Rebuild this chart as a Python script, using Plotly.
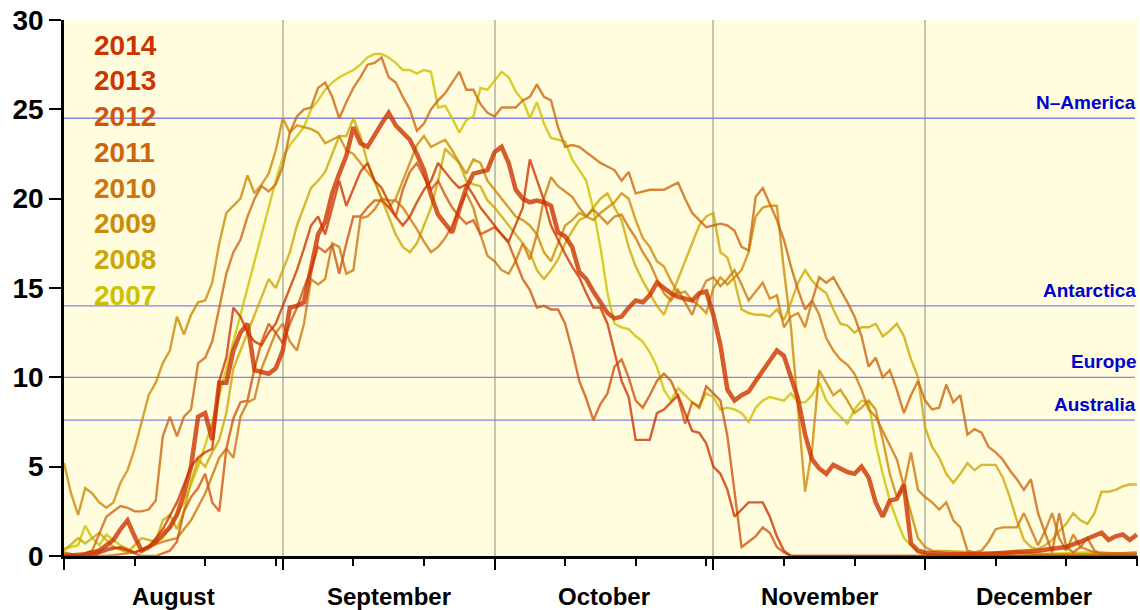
import pandas as pd
import plotly.graph_objects as go

# Ozone hole area (million km²) per season, as (day since 1 August, area) pairs
SEASON_START = pd.Timestamp("2014-08-01")

AREA_2014 = [(0, 0.0), (3, 0.1), (5, 0.3), (7, 0.9), (8, 1.5), (9, 2.0), (10, 1.1), (11, 0.3), (12, 0.5),
             (13, 0.8), (14, 1.2), (15, 1.6), (16, 2.3), (17, 3.5), (18, 5.0), (19, 7.8), (20, 8.0), (21, 6.5),
             (22, 9.7), (23, 9.7), (24, 11.5), (25, 12.5), (26, 13.0), (27, 10.4), (28, 10.3), (29, 10.2),
             (30, 10.5), (31, 11.5), (32, 13.9), (33, 14.0), (34, 14.2), (35, 16.0), (36, 18.0), (37, 18.7),
             (38, 20.3), (39, 21.4), (40, 22.4), (41, 24.0), (42, 23.1), (43, 22.9), (44, 23.6), (45, 24.2),
             (46, 24.8), (47, 24.1), (48, 23.7), (49, 23.3), (50, 22.5), (51, 21.6), (52, 20.2), (53, 19.1),
             (54, 18.6), (55, 18.1), (56, 19.4), (57, 20.6), (58, 21.4), (59, 21.5), (60, 21.6), (61, 22.6),
             (62, 22.9), (63, 22.0), (64, 20.5), (65, 20.0), (66, 19.8), (67, 19.9), (68, 19.8), (69, 19.6),
             (70, 18.1), (71, 17.9), (72, 17.3), (73, 15.9), (74, 15.5), (75, 14.8), (76, 14.2), (77, 13.6),
             (78, 13.3), (79, 13.4), (80, 13.9), (81, 14.3), (82, 14.2), (83, 14.6), (84, 15.3), (85, 15.0),
             (86, 14.7), (87, 14.5), (88, 14.4), (89, 14.3), (90, 14.7), (91, 14.8), (92, 13.5), (93, 11.8),
             (94, 9.3), (95, 8.7), (96, 9.0), (97, 9.2), (98, 9.8), (99, 10.4), (100, 10.9), (101, 11.5),
             (102, 11.2), (103, 9.9), (104, 8.8), (105, 6.8), (106, 5.4), (107, 4.9), (108, 4.6), (109, 5.1),
             (110, 4.9), (111, 4.7), (112, 4.6), (113, 5.0), (114, 4.4), (115, 3.0), (116, 2.2), (117, 3.1),
             (118, 3.2), (119, 4.0), (120, 0.7), (121, 0.3), (122, 0.2), (125, 0.1), (130, 0.1), (135, 0.2),
             (138, 0.3), (140, 0.4), (142, 0.5), (144, 0.8), (146, 1.1), (147, 1.3), (148, 0.9), (149, 1.1),
             (150, 1.2), (151, 0.9), (152, 1.2)]

AREA_2013 = [(0, 0.0), (4, 0.0), (6, 0.3), (8, 0.5), (10, 0.2), (12, 0.5), (14, 1.5), (16, 3.0), (18, 5.0),
             (19, 5.5), (20, 5.8), (21, 6.0), (22, 9.8), (23, 11.1), (24, 13.9), (25, 13.4), (26, 12.5),
             (27, 12.0), (28, 11.8), (29, 12.5), (30, 13.0), (31, 14.0), (32, 15.0), (33, 16.0), (34, 17.2),
             (35, 18.5), (36, 19.0), (37, 18.0), (38, 19.5), (39, 21.0), (40, 19.6), (41, 20.5), (42, 21.5),
             (43, 22.0), (44, 21.0), (45, 20.6), (46, 19.8), (47, 19.0), (48, 18.5), (49, 19.0), (50, 19.8),
             (51, 20.5), (52, 21.0), (53, 22.0), (54, 21.5), (55, 21.0), (56, 20.6), (57, 20.8), (58, 20.2),
             (59, 19.5), (60, 19.0), (61, 18.5), (62, 18.0), (63, 17.6), (64, 18.5), (65, 19.5), (66, 22.2),
             (67, 21.0), (68, 19.9), (69, 18.5), (70, 17.7), (71, 16.9), (72, 16.2), (73, 15.6), (74, 14.7),
             (75, 13.9), (76, 13.9), (77, 13.0), (78, 11.4), (79, 9.8), (80, 8.9), (81, 6.5), (82, 6.5),
             (83, 6.5), (84, 8.0), (85, 8.2), (86, 8.6), (87, 9.0), (88, 8.0), (89, 7.0), (90, 6.9), (91, 6.3),
             (92, 5.0), (93, 4.6), (94, 3.7), (95, 2.2), (96, 2.6), (97, 3.0), (98, 3.0), (99, 3.0), (100, 2.2),
             (101, 1.1), (102, 0.3), (103, 0.0), (152, 0.0)]

AREA_2012 = [(0, 0.0), (3, 0.0), (5, 0.3), (7, 0.5), (9, 0.3), (11, 0.0), (13, 0.0), (15, 0.3), (16, 0.8),
             (17, 2.5), (18, 3.3), (19, 3.8), (20, 4.6), (21, 3.0), (22, 2.5), (23, 6.0), (24, 7.7), (25, 8.6),
             (26, 8.7), (27, 10.5), (28, 12.0), (29, 13.0), (30, 12.5), (31, 11.9), (32, 13.0), (33, 13.9),
             (34, 15.0), (35, 16.0), (36, 17.3), (37, 17.0), (38, 17.4), (39, 15.8), (40, 17.5), (41, 19.0),
             (42, 19.0), (43, 19.5), (44, 19.9), (45, 19.9), (46, 19.5), (47, 19.0), (48, 20.5), (49, 21.5),
             (50, 22.0), (51, 21.2), (52, 20.5), (53, 21.0), (54, 20.2), (55, 19.5), (56, 19.0), (57, 18.6),
             (58, 18.8), (59, 18.0), (60, 18.2), (61, 18.4), (62, 18.0), (63, 17.5), (64, 16.5), (65, 15.5),
             (66, 14.9), (67, 13.9), (68, 14.0), (69, 13.8), (70, 13.8), (71, 13.0), (72, 11.5), (73, 9.8),
             (74, 8.8), (75, 7.6), (76, 8.5), (77, 9.1), (78, 10.6), (79, 11.0), (80, 10.0), (81, 8.7),
             (82, 8.3), (83, 9.0), (84, 9.8), (85, 10.2), (86, 9.8), (87, 8.9), (88, 7.4), (89, 8.6), (90, 8.3),
             (91, 9.5), (92, 9.1), (93, 8.7), (94, 6.7), (95, 3.7), (96, 0.5), (97, 0.8), (98, 1.1), (99, 1.6),
             (100, 1.3), (101, 0.5), (102, 0.2), (103, 0.0), (152, 0.0)]

AREA_2011 = [(0, 0.2), (2, 0.0), (4, 0.3), (6, 2.2), (7, 2.5), (8, 2.8), (9, 2.7), (10, 2.5), (11, 2.5),
             (12, 2.6), (13, 3.1), (14, 6.7), (15, 7.8), (16, 6.7), (17, 7.8), (18, 8.2), (19, 10.8), (20, 11.1),
             (21, 12.0), (22, 14.0), (23, 15.8), (24, 17.0), (25, 17.7), (26, 19.0), (27, 20.0), (28, 20.7),
             (29, 20.4), (30, 20.8), (31, 21.8), (32, 23.7), (33, 24.6), (34, 25.0), (35, 25.1), (36, 26.2),
             (37, 26.5), (38, 25.7), (39, 24.5), (40, 25.4), (41, 26.2), (42, 26.8), (43, 27.5), (44, 27.6),
             (45, 27.9), (46, 26.8), (47, 26.5), (48, 25.7), (49, 25.0), (50, 23.8), (51, 24.2), (52, 25.0),
             (53, 25.5), (54, 25.9), (55, 26.5), (56, 27.1), (57, 26.1), (58, 26.1), (59, 25.3), (60, 24.8),
             (61, 24.6), (62, 25.1), (63, 25.1), (64, 25.1), (65, 25.5), (66, 25.7), (67, 26.4), (68, 25.7),
             (69, 25.5), (70, 24.0), (71, 22.9), (72, 23.0), (73, 22.9), (74, 22.6), (75, 22.3), (76, 22.0),
             (77, 21.8), (78, 21.6), (79, 21.0), (80, 21.5), (81, 20.3), (82, 20.4), (83, 20.5), (84, 20.5),
             (85, 20.5), (86, 20.7), (87, 20.9), (88, 20.0), (89, 19.2), (90, 18.8), (91, 18.4), (92, 18.5),
             (93, 18.6), (94, 18.5), (95, 18.2), (96, 17.3), (97, 17.1), (98, 20.1), (99, 20.6), (100, 19.7),
             (101, 18.8), (102, 17.7), (103, 16.2), (104, 14.9), (105, 13.8), (106, 14.3), (107, 15.6),
             (108, 15.3), (109, 15.6), (110, 14.9), (111, 14.2), (112, 13.4), (113, 12.3), (114, 10.6),
             (115, 11.1), (116, 10.0), (117, 10.4), (118, 9.3), (119, 8.0), (120, 9.0), (121, 9.8), (122, 8.7),
             (123, 8.2), (124, 8.3), (125, 9.6), (126, 8.6), (127, 9.0), (128, 6.8), (129, 7.1), (130, 6.9),
             (131, 6.1), (132, 5.8), (133, 5.4), (134, 4.8), (135, 4.3), (136, 3.7), (137, 4.3), (138, 2.4),
             (139, 1.3), (140, 0.2), (141, 2.4), (142, 0.5), (143, 0.2), (144, 0.5), (145, 1.0), (146, 0.3),
             (147, 0.1), (152, 0.2)]

AREA_2010 = [(0, 0.0), (6, 0.0), (10, 0.2), (12, 0.5), (14, 0.8), (16, 1.0), (18, 2.0), (20, 3.5), (21, 4.5),
             (22, 5.5), (23, 6.0), (24, 5.5), (25, 7.8), (26, 8.6), (27, 8.8), (28, 10.5), (29, 11.5),
             (30, 12.5), (31, 13.0), (32, 12.0), (33, 11.5), (34, 13.0), (35, 15.5), (36, 15.2), (37, 15.5),
             (38, 17.5), (39, 17.3), (40, 15.8), (41, 16.0), (42, 18.9), (43, 19.0), (44, 19.4), (45, 20.0),
             (46, 19.9), (47, 19.9), (48, 19.5), (49, 18.9), (50, 18.3), (51, 17.6), (52, 17.0), (53, 17.3),
             (54, 17.8), (55, 18.5), (56, 19.5), (57, 20.3), (58, 19.5), (59, 18.0), (60, 16.8), (61, 16.5),
             (62, 16.0), (63, 15.8), (64, 16.5), (65, 17.5), (66, 16.6), (67, 18.0), (68, 20.0), (69, 21.2),
             (70, 20.7), (71, 20.4), (72, 20.1), (73, 19.5), (74, 19.0), (75, 19.4), (76, 19.0), (77, 18.6),
             (78, 19.0), (79, 19.1), (80, 18.4), (81, 17.8), (82, 17.0), (83, 16.4), (84, 15.5), (85, 14.7),
             (86, 14.3), (87, 14.9), (88, 14.2), (89, 13.5), (90, 14.6), (91, 15.4), (92, 15.6), (93, 15.1),
             (94, 15.5), (95, 16.0), (96, 15.2), (97, 14.3), (98, 14.8), (99, 15.3), (100, 14.4), (101, 14.6),
             (102, 12.8), (103, 13.4), (104, 13.6), (105, 12.8), (106, 14.3), (107, 13.5), (108, 12.2),
             (109, 11.5), (110, 11.0), (111, 10.7), (112, 10.2), (113, 9.3), (114, 8.2), (115, 7.8), (116, 7.0),
             (117, 6.2), (118, 5.4), (119, 3.9), (120, 5.8), (121, 3.7), (122, 3.3), (123, 3.0), (124, 2.6),
             (125, 3.0), (126, 2.0), (127, 1.6), (128, 0.3), (129, 0.2), (130, 0.3), (131, 0.8), (132, 1.5),
             (133, 1.6), (134, 1.6), (135, 1.6), (136, 2.4), (137, 1.5), (138, 0.6), (139, 1.4), (140, 2.4),
             (141, 1.0), (142, 0.3), (143, 1.2), (144, 0.5), (146, 0.2), (152, 0.1)]

AREA_2009 = [(0, 5.2), (1, 3.5), (2, 2.3), (3, 3.8), (4, 3.5), (5, 3.0), (6, 2.7), (7, 3.0), (8, 4.1), (9, 4.8),
             (10, 6.0), (11, 7.5), (12, 9.0), (13, 9.7), (14, 10.8), (15, 11.5), (16, 13.4), (17, 12.4),
             (18, 13.5), (19, 14.2), (20, 14.3), (21, 15.3), (22, 17.5), (23, 19.2), (24, 19.6), (25, 20.0),
             (26, 21.3), (27, 20.3), (28, 20.8), (29, 21.4), (30, 22.7), (31, 24.5), (32, 23.7), (33, 24.1),
             (34, 24.0), (35, 23.9), (36, 23.7), (37, 23.1), (38, 23.3), (39, 23.5), (40, 22.7), (41, 22.5),
             (42, 22.0), (43, 21.5), (44, 21.0), (45, 20.0), (46, 19.5), (47, 20.0), (48, 21.0), (49, 22.0),
             (50, 23.0), (51, 23.5), (52, 22.9), (53, 23.1), (54, 23.3), (55, 22.7), (56, 22.0), (57, 21.4),
             (58, 22.2), (59, 22.0), (60, 21.0), (61, 20.5), (62, 20.0), (63, 19.5), (64, 19.0), (65, 18.8),
             (66, 18.5), (67, 18.0), (68, 17.0), (69, 16.5), (70, 17.5), (71, 18.5), (72, 18.8), (73, 19.2),
             (74, 19.0), (75, 18.8), (76, 19.2), (77, 19.5), (78, 19.8), (79, 20.3), (80, 20.0), (81, 18.8),
             (82, 17.8), (83, 17.3), (84, 16.5), (85, 16.2), (86, 15.4), (87, 14.7), (88, 14.8), (89, 14.3),
             (90, 14.0), (91, 13.6), (92, 15.0), (93, 15.6), (94, 15.2), (95, 15.6), (96, 16.0), (97, 17.0),
             (98, 19.0), (99, 19.5), (100, 19.6), (101, 19.6), (102, 16.0), (103, 12.8), (104, 8.0), (105, 3.6),
             (106, 6.0), (107, 10.4), (108, 9.7), (109, 9.0), (110, 9.3), (111, 8.7), (112, 8.0), (113, 8.3),
             (114, 8.7), (115, 8.2), (116, 6.5), (117, 4.6), (118, 3.3), (119, 3.9), (120, 2.4), (121, 1.0),
             (122, 0.5), (123, 0.3), (130, 0.2), (140, 0.1), (152, 0.1)]

AREA_2008 = [(0, 0.3), (2, 1.0), (3, 0.7), (5, 1.3), (7, 0.5), (9, 0.2), (11, 1.0), (13, 0.8), (14, 2.0),
             (15, 2.3), (16, 1.5), (17, 2.5), (18, 4.2), (19, 5.4), (20, 5.0), (21, 5.8), (22, 6.5), (23, 8.0),
             (24, 10.5), (25, 11.5), (26, 12.5), (27, 13.5), (28, 14.5), (29, 15.5), (30, 15.0), (31, 16.0),
             (32, 17.0), (33, 18.5), (34, 19.5), (35, 20.6), (36, 21.0), (37, 21.5), (38, 22.5), (39, 23.5),
             (40, 23.5), (41, 24.5), (42, 23.5), (43, 22.0), (44, 21.0), (45, 20.0), (46, 19.0), (47, 18.0),
             (48, 17.3), (49, 17.0), (50, 17.5), (51, 18.5), (52, 19.5), (53, 21.0), (54, 22.8), (55, 22.4),
             (56, 22.0), (57, 21.0), (58, 20.8), (59, 20.7), (60, 19.9), (61, 19.5), (62, 19.0), (63, 18.5),
             (64, 18.0), (65, 17.5), (66, 17.0), (67, 16.0), (68, 15.5), (69, 16.0), (70, 16.6), (71, 17.5),
             (72, 18.2), (73, 18.8), (74, 19.0), (75, 19.5), (76, 20.0), (77, 20.3), (78, 19.5), (79, 18.8),
             (80, 17.3), (81, 16.2), (82, 15.4), (83, 14.7), (84, 14.0), (85, 13.5), (86, 14.5), (87, 15.5),
             (88, 16.6), (89, 17.5), (90, 18.5), (91, 19.0), (92, 19.2), (93, 17.0), (94, 16.7), (95, 15.4),
             (96, 13.8), (97, 13.6), (98, 13.5), (99, 13.5), (100, 13.4), (101, 13.8), (102, 13.2), (103, 14.2),
             (104, 15.3), (105, 16.0), (106, 15.4), (107, 15.0), (108, 14.7), (109, 13.8), (110, 13.0),
             (111, 12.9), (112, 12.5), (113, 12.8), (114, 12.8), (115, 13.0), (116, 12.3), (117, 12.6),
             (118, 13.0), (119, 12.3), (120, 11.0), (121, 10.0), (122, 7.2), (123, 6.1), (124, 5.5), (125, 4.6),
             (126, 4.1), (127, 4.6), (128, 5.2), (129, 4.8), (130, 5.1), (131, 5.1), (132, 5.1), (133, 4.4),
             (134, 3.3), (135, 2.0), (136, 0.9), (137, 0.5), (138, 0.4), (139, 0.6), (140, 0.9), (141, 1.4),
             (142, 1.8), (143, 2.4), (144, 2.0), (145, 1.8), (146, 2.4), (147, 3.6), (148, 3.6), (149, 3.7),
             (150, 3.9), (151, 4.0), (152, 4.0)]

AREA_2007 = [(0, 0.4), (1, 0.5), (2, 0.6), (3, 1.7), (4, 1.0), (5, 0.6), (6, 1.2), (7, 0.9), (8, 0.6), (9, 0.4),
             (10, 0.2), (11, 0.3), (12, 0.5), (13, 0.8), (14, 1.0), (15, 1.6), (16, 2.3), (17, 3.0), (18, 4.0),
             (19, 5.0), (20, 6.2), (21, 7.5), (22, 9.0), (23, 10.5), (24, 12.0), (25, 13.5), (26, 15.0),
             (27, 16.5), (28, 18.0), (29, 19.5), (30, 21.0), (31, 22.3), (32, 23.0), (33, 23.5), (34, 24.0),
             (35, 25.0), (36, 25.5), (37, 26.1), (38, 26.5), (39, 26.8), (40, 27.0), (41, 27.2), (42, 27.5),
             (43, 27.9), (44, 28.1), (45, 28.1), (46, 27.9), (47, 27.6), (48, 27.2), (49, 27.2), (50, 27.0),
             (51, 27.2), (52, 27.1), (53, 25.1), (54, 25.2), (55, 24.5), (56, 23.7), (57, 24.4), (58, 24.6),
             (59, 26.2), (60, 26.1), (61, 26.6), (62, 27.1), (63, 26.8), (64, 26.0), (65, 25.5), (66, 24.5),
             (67, 25.4), (68, 24.2), (69, 23.4), (70, 23.3), (71, 23.2), (72, 22.2), (73, 21.6), (74, 21.0),
             (75, 19.4), (76, 17.3), (77, 14.7), (78, 13.0), (79, 12.8), (80, 12.7), (81, 12.3), (82, 12.0),
             (83, 11.4), (84, 10.6), (85, 9.3), (86, 8.7), (87, 9.4), (88, 9.0), (89, 8.6), (90, 8.4), (91, 9.1),
             (92, 8.9), (93, 8.2), (94, 8.3), (95, 8.2), (96, 8.0), (97, 7.5), (98, 8.3), (99, 8.7), (100, 8.9),
             (101, 8.8), (102, 8.7), (103, 9.1), (104, 8.6), (105, 8.6), (106, 9.0), (107, 9.7), (108, 8.7),
             (109, 8.2), (110, 7.8), (111, 7.4), (112, 8.2), (113, 8.7), (114, 8.6), (115, 6.3), (116, 4.6),
             (117, 3.1), (118, 2.0), (119, 1.0), (120, 0.6), (121, 0.2), (122, 0.1), (130, 0.1), (135, 0.3),
             (138, 0.1), (145, 0.2), (152, 0.1)]

YEARS = [2014, 2013, 2012, 2011, 2010, 2009, 2008, 2007]
SERIES = {2014: AREA_2014, 2013: AREA_2013, 2012: AREA_2012, 2011: AREA_2011,
          2010: AREA_2010, 2009: AREA_2009, 2008: AREA_2008, 2007: AREA_2007}
YEAR_COLORS = {2014: (204, 50, 0), 2013: (204, 54, 2), 2012: (208, 84, 16), 2011: (204, 102, 16),
               2010: (204, 118, 16), 2009: (204, 138, 8), 2008: (204, 166, 6), 2007: (204, 192, 0)}

# Comparison areas (million km²)
REGION_NAMES = ["N\u2013America", "Antarctica", "Europe", "Australia"]
REGION_AREAS = [24.5, 14.0, 10.0, 7.6]

MONTH_NAMES = ["August", "September", "October", "November", "December"]
MONTH_STARTS = pd.date_range("2014-08-01", "2014-12-01", freq="MS")
Y_TICKS = [0, 5, 10, 15, 20, 25, 30]

FONT = "Liberation Sans, Arial, Helvetica, sans-serif"

fig = go.Figure()

# older seasons underneath, the current one on top
for year in reversed(YEARS):
    days = [d for d, _ in SERIES[year]]
    area = [a for _, a in SERIES[year]]
    dates = SEASON_START + pd.to_timedelta(days, unit="D")
    r, g, b = YEAR_COLORS[year]
    fig.add_trace(go.Scatter(
        x=dates, y=area, mode="lines", name=str(year),
        line=dict(color=f"rgba({r},{g},{b},0.8)", width=4.5 if year == 2014 else 2.4),
        hoverinfo="x+y+name", showlegend=False,
    ))

# reference area lines with their labels
for name, area in zip(REGION_NAMES, REGION_AREAS):
    fig.add_shape(type="line", xref="paper", yref="y", x0=0, x1=0.997, y0=area, y1=area,
                  line=dict(color="rgba(110,110,235,0.85)", width=1.3), layer="below")
    fig.add_annotation(x=1.0, y=area, xref="paper", yref="y", text=f"<b>{name}</b>",
                       showarrow=False, xanchor="right", yanchor="bottom", yshift=3,
                       font=dict(family=FONT, size=19, color="rgb(0,0,205)"))

# year key, top left
for i, year in enumerate(YEARS):
    r, g, b = YEAR_COLORS[year]
    fig.add_annotation(x=0.026, y=0.953 - i * 0.0667, xref="paper", yref="paper",
                       text=f"<b>{year}</b>", showarrow=False, xanchor="left", yanchor="middle",
                       font=dict(family=FONT, size=28, color=f"rgb({r},{g},{b})"))

# month names centred in each month
month_ends = list(MONTH_STARTS[1:]) + [pd.Timestamp("2015-01-01")]
for name, start, end in zip(MONTH_NAMES, MONTH_STARTS, month_ends):
    mid = start + (end - start) / 2
    fig.add_annotation(x=mid, y=-0.075, xref="x", yref="paper", text=f"<b>{name}</b>",
                       showarrow=False, xanchor="center", yanchor="middle",
                       font=dict(family=FONT, size=24, color="black"))

minor_ticks = [s + pd.Timedelta(days=k) for s in MONTH_STARTS for k in (10, 20, 30)
               if (s + pd.Timedelta(days=k)).month == s.month]

fig.update_layout(
    width=1140, height=610,
    margin=dict(l=64, r=2, t=20, b=54),
    paper_bgcolor="white",
    plot_bgcolor="rgb(255,253,222)",
    font=dict(family=FONT, color="black"),
    xaxis=dict(
        type="date",
        range=[SEASON_START, pd.Timestamp("2014-12-31 04:00")],
        tickmode="array", tickvals=list(MONTH_STARTS), ticktext=[""] * len(MONTH_STARTS),
        ticks="outside", ticklen=11, tickwidth=2, tickcolor="black",
        showgrid=True, gridcolor="rgba(150,150,140,0.55)", gridwidth=1.5,
        showline=True, linecolor="black", linewidth=3,
        zeroline=False, layer="below traces",
        minor=dict(tickmode="array", tickvals=minor_ticks, ticks="outside", ticklen=7,
                   tickwidth=2, tickcolor="black", showgrid=False),
    ),
    yaxis=dict(
        range=[0, 30], tickmode="array", tickvals=Y_TICKS,
        ticks="outside", ticklen=12, tickwidth=2, tickcolor="black",
        showgrid=False, zeroline=False,
        showline=True, linecolor="black", linewidth=2.5,
        tickfont=dict(family=FONT, size=28, color="black", weight="bold"),
        layer="below traces",
    ),
)

fig.write_html("out.html")
